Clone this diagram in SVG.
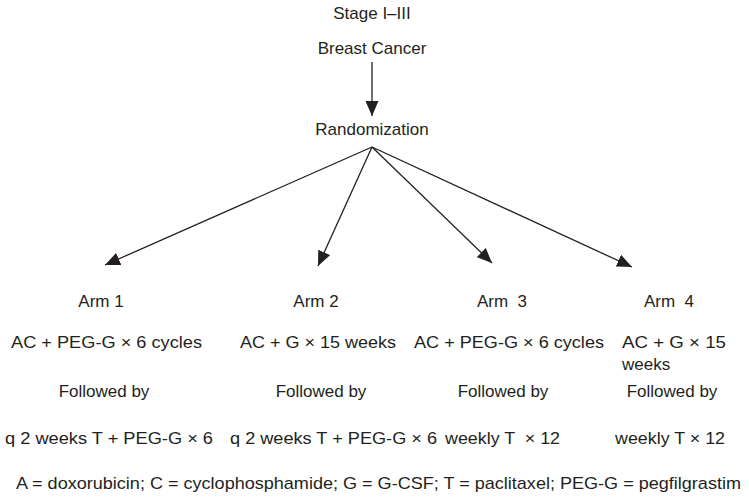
<svg xmlns="http://www.w3.org/2000/svg" width="749" height="497" viewBox="0 0 749 497">
<defs>
<marker id="ah" markerUnits="userSpaceOnUse" markerWidth="15" markerHeight="13" viewBox="0 0 15 13" refX="15" refY="6.5" orient="auto">
<path d="M0,0 L15,6.5 L0,13 Z" fill="#231f20"/>
</marker>
<style>
text{font-family:"Liberation Sans",Arial,sans-serif;font-size:17px;fill:#231f20;white-space:pre}
.m{text-anchor:middle}
.c line{stroke:#231f20;stroke-width:1.3;fill:none}
</style>
</defs>
<rect width="749" height="497" fill="#fff"/>
<g id="stage"><text class="m" x="372" y="19">Stage I–III</text></g>
<g id="breast"><text class="m" x="372" y="54">Breast Cancer</text></g>
<g id="random"><text class="m" x="372" y="135">Randomization</text></g>
<g id="arm1">
<text class="m" x="101" y="307">Arm 1</text>
<text x="11" y="348" textLength="191" lengthAdjust="spacingAndGlyphs">AC + PEG-G × 6 cycles</text>
<text class="m" x="104" y="397">Followed by</text>
<text x="5" y="444" textLength="208" lengthAdjust="spacingAndGlyphs">q 2 weeks T + PEG-G × 6</text>
</g>
<g id="arm2">
<text class="m" x="316" y="307">Arm 2</text>
<text x="240" y="348" textLength="156" lengthAdjust="spacingAndGlyphs">AC + G × 15 weeks</text>
<text class="m" x="321" y="397">Followed by</text>
<text x="230" y="444" textLength="207" lengthAdjust="spacingAndGlyphs">q 2 weeks T + PEG-G × 6</text>
</g>
<g id="arm3">
<text class="m" x="502" y="307" xml:space="preserve">Arm  3</text>
<text x="414" y="348" textLength="190" lengthAdjust="spacingAndGlyphs">AC + PEG-G × 6 cycles</text>
<text class="m" x="503" y="397">Followed by</text>
<text x="445" y="444" textLength="115" lengthAdjust="spacingAndGlyphs" xml:space="preserve">weekly T  × 12</text>
</g>
<g id="arm4">
<text class="m" x="669" y="307" xml:space="preserve">Arm  4</text>
<text x="622" y="348" textLength="104" lengthAdjust="spacingAndGlyphs">AC + G × 15</text>
<text x="622" y="370">weeks</text>
<text class="m" x="672" y="397">Followed by</text>
<text x="615" y="444" textLength="110" lengthAdjust="spacingAndGlyphs">weekly T × 12</text>
</g>
<g id="footnote"><text x="16" y="489" textLength="725" lengthAdjust="spacingAndGlyphs">A = doxorubicin; C = cyclophosphamide; G = G-CSF; T = paclitaxel; PEG-G = pegfilgrastim</text></g>
<g class="c" id="connectors">
<line x1="372" y1="62" x2="372" y2="116" marker-end="url(#ah)"/>
<line x1="372" y1="147" x2="105" y2="265" marker-end="url(#ah)"/>
<line x1="372" y1="147" x2="318" y2="266" marker-end="url(#ah)"/>
<line x1="372" y1="147" x2="492" y2="263" marker-end="url(#ah)"/>
<line x1="372" y1="147" x2="632" y2="267" marker-end="url(#ah)"/>
</g>
</svg>
